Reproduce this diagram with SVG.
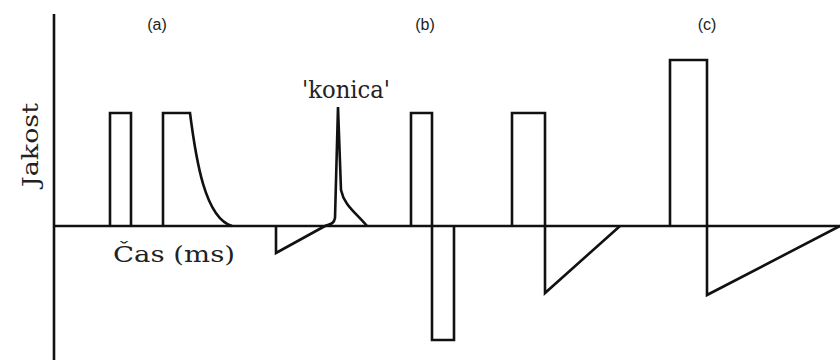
<svg xmlns="http://www.w3.org/2000/svg" width="840" height="360" viewBox="0 0 840 360">
<style>
.ln{fill:none;stroke:#111;stroke-width:2.6;stroke-linejoin:miter}
.ser{font-family:"DejaVu Serif","Liberation Serif",serif;fill:#222}
.sans{font-family:"Liberation Sans",Arial,sans-serif;fill:#222;font-size:16px}
</style>
<rect width="840" height="360" fill="#fff"/>
<g id="axes">
<line class="ln" x1="54" y1="14" x2="54" y2="360"/>
<line class="ln" x1="54" y1="226" x2="840" y2="226"/>
<text class="ser" font-size="23" transform="translate(38,145) rotate(-90)" text-anchor="middle" textLength="84" lengthAdjust="spacingAndGlyphs">Jakost</text>
<text class="ser" font-size="23" x="113" y="262" textLength="122" lengthAdjust="spacingAndGlyphs">Čas (ms)</text>
</g>
<g id="a">
<text class="sans" x="157" y="30" text-anchor="middle">(a)</text>
<polyline class="ln" points="110,226 110,113 131,113 131,226"/>
<path class="ln" d="M163,226 V113 H190 C196,160 205,218 232,226"/>
</g>
<g id="konica">
<text class="ser" font-size="24" x="302" y="98" textLength="88" lengthAdjust="spacingAndGlyphs">'konica'</text>
<polyline class="ln" points="276,226 276,253 325,226"/>
<path class="ln" d="M325,226 C330,224 334,224 335,218 L338,107 L341,190 C344,205 355,212 367,226"/>
</g>
<g id="b">
<text class="sans" x="425" y="30" text-anchor="middle">(b)</text>
<polyline class="ln" points="411,226 411,113 432,113 432,340 454,340 454,226"/>
<polyline class="ln" points="512,226 512,113 545,113 545,293 620,226"/>
</g>
<g id="c">
<text class="sans" x="707" y="30" text-anchor="middle">(c)</text>
<polyline class="ln" points="670,226 670,60 707,60 707,295 840,226"/>
</g>
</svg>
